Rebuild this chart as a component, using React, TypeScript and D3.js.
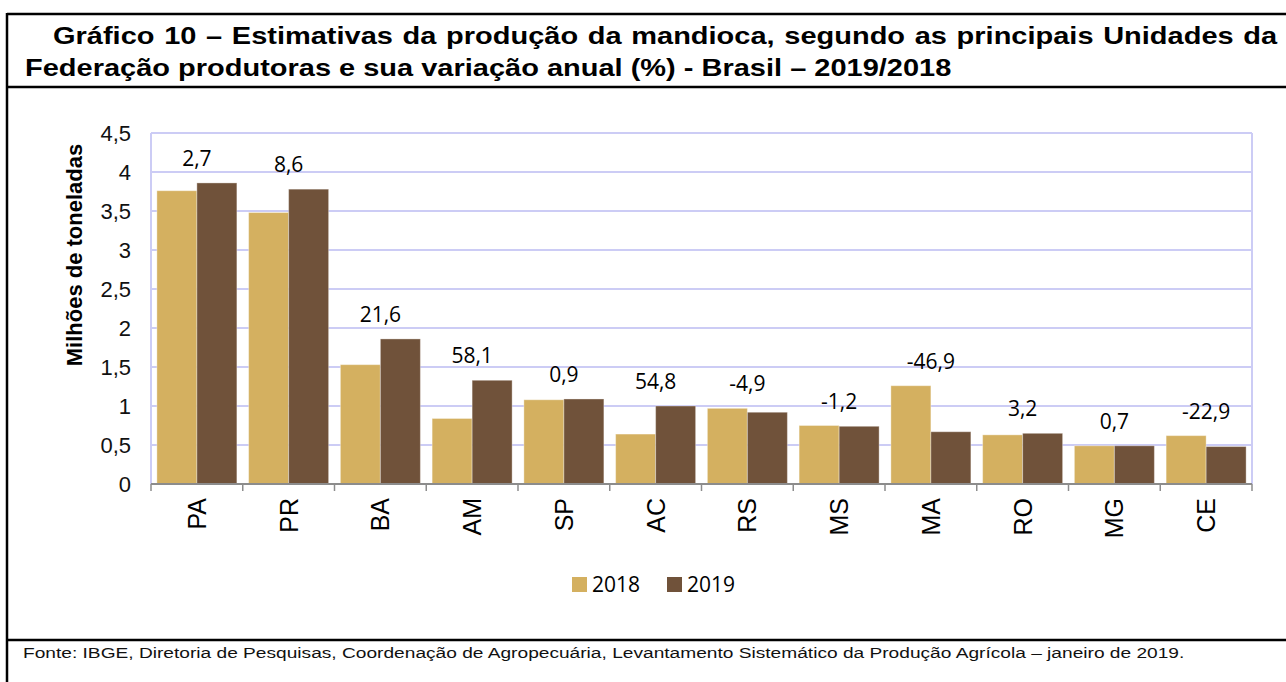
import { useEffect, useRef } from "react";
import * as d3 from "d3";

const estados = ["PA", "PR", "BA", "AM", "SP", "AC", "RS", "MS", "MA", "RO", "MG", "CE"];
const anos = ["2018", "2019"];
const producao2018 = [3.76, 3.48, 1.53, 0.84, 1.08, 0.64, 0.97, 0.75, 1.26, 0.63, 0.49, 0.62];
const producao2019 = [3.86, 3.78, 1.86, 1.33, 1.09, 1.0, 0.92, 0.74, 0.67, 0.65, 0.49, 0.48];
const variacao = ["2,7", "8,6", "21,6", "58,1", "0,9", "54,8", "-4,9", "-1,2", "-46,9", "3,2", "0,7", "-22,9"];
const yTicks = [0, 0.5, 1, 1.5, 2, 2.5, 3, 3.5, 4, 4.5];

const cores: Record<string, string> = { "2018": "#d4b060", "2019": "#70523a" };

const titulo1 = "Gráfico 10 – Estimativas da produção da mandioca, segundo as principais Unidades da";
const titulo2 = "Federação produtoras e sua variação anual (%) - Brasil – 2019/2018";
const fonte =
  "Fonte: IBGE, Diretoria de Pesquisas, Coordenação de Agropecuária, Levantamento Sistemático da Produção Agrícola – janeiro de 2019.";

function App() {
  const ref = useRef<SVGSVGElement>(null);

  const width = 1286;
  const height = 682;
  const margin = { top: 133, left: 151, right: 34, bottom: 198 };
  const innerW = width - margin.left - margin.right;
  const innerH = height - margin.top - margin.bottom;

  const x = d3.scaleBand().domain(estados).range([0, innerW]).padding(0);
  const xSub = d3
    .scaleBand()
    .domain(anos)
    .range([0, x.bandwidth()])
    .paddingInner(0)
    .paddingOuter(0.147);
  const y = d3.scaleLinear().domain([0, 4.5]).range([innerH, 0]);

  const dados = estados.map((uf, i) => ({
    uf,
    valores: [
      { ano: "2018", v: producao2018[i] },
      { ano: "2019", v: producao2019[i] },
    ],
    label: variacao[i],
  }));

  useEffect(() => {
    const svg = d3.select(ref.current);
    // the title font is a narrow one: squeeze using line 2 as reference
    const t2 = svg.select<SVGTextElement>("#titulo2");
    const nat2 = t2.node()!.getComputedTextLength();
    const r = 927 / nat2;
    t2.attr("transform", `translate(25,76) scale(${r},1)`);
    const t1 = svg.select<SVGTextElement>("#titulo1");
    const nat1 = t1.node()!.getComputedTextLength();
    const gaps = titulo1.split(" ").length - 1;
    const ws = (1225 / r - nat1) / gaps;
    t1.attr("word-spacing", ws).attr("transform", `translate(53,44) scale(${r},1)`);
    const f = svg.select<SVGTextElement>("#fonte");
    const natF = f.node()!.getComputedTextLength();
    f.attr("transform", `translate(23,658) scale(${1162 / natF},1)`);
  }, []);

  const grid = "#ccccf5";

  return (
    <svg
      ref={ref}
      width={width}
      height={height}
      style={{ position: "absolute", left: 0, top: 0, background: "#fff" }}
    >
      <rect width={width} height={height} fill="#fff" />
      {/* moldura */}
      <g stroke="#000" strokeWidth={2.5}>
        <line x1={7} x2={width} y1={14} y2={14} />
        <line x1={7} x2={width} y1={87} y2={87} />
        <line x1={7} x2={width} y1={640} y2={640} />
        <line x1={7} x2={7} y1={13} y2={height} />
      </g>

      <g fontFamily="'Liberation Sans Narrow', 'Liberation Sans', Arial, sans-serif" fontWeight="bold" fontSize={24.5}>
        <text id="titulo1" transform="translate(53,44)">{titulo1}</text>
        <text id="titulo2" transform="translate(25,76)">{titulo2}</text>
      </g>
      <text
        id="fonte"
        transform="translate(23,658)"
        fontFamily="'Liberation Sans Narrow', 'Liberation Sans', Arial, sans-serif"
        fontSize={15.5}
        fill="#111"
      >
        {fonte}
      </text>

      <g transform={`translate(${margin.left},${margin.top})`}>
        {yTicks.map((t) => (
          <g key={t}>
            {t > 0 && (
              <line x1={0} x2={innerW} y1={y(t)} y2={y(t)} stroke={grid} strokeWidth={2} />
            )}
            <text
              x={-20}
              y={y(t)}
              dy="0.36em"
              textAnchor="end"
              fontFamily="'Liberation Sans', Arial, sans-serif"
              fontSize={22}
              fill="#111"
            >
              {d3.format(".1~f")(t).replace(".", ",")}
            </text>
          </g>
        ))}
        <line x1={0} x2={0} y1={0} y2={innerH} stroke={grid} strokeWidth={2} />
        <line x1={innerW} x2={innerW} y1={0} y2={innerH} stroke={grid} strokeWidth={2} />

        {dados.map((d) => (
          <g key={d.uf} transform={`translate(${x(d.uf)},0)`}>
            {d.valores.map((s) => (
              <rect
                key={s.ano}
                x={xSub(s.ano)}
                y={y(s.v)}
                width={xSub.bandwidth()}
                height={innerH - y(s.v)}
                fill={cores[s.ano]}
                stroke="#ffffff"
                strokeOpacity={0.35}
                strokeWidth={1}
              />
            ))}
            <text
              x={x.bandwidth() / 2}
              y={y(d3.max(d.valores, (s) => s.v)!) - 17}
              textAnchor="middle"
              fontFamily="'Open Sans', 'Noto Sans', sans-serif"
              fontSize={21}
              fill="#000"
            >
              {d.label}
            </text>
            <text
              transform={`translate(${x.bandwidth() / 2 + 9},${innerH + 14}) rotate(-90)`}
              textAnchor="end"
              fontFamily="'Liberation Sans', Arial, sans-serif"
              fontSize={25}
              fill="#000"
            >
              {d.uf}
            </text>
          </g>
        ))}

        {/* eixo x */}
        <line x1={0} x2={innerW} y1={innerH} y2={innerH} stroke="#8c8c8c" strokeWidth={2} />
        {d3.range(estados.length + 1).map((i) => (
          <line
            key={i}
            x1={i * x.step()}
            x2={i * x.step()}
            y1={innerH}
            y2={innerH + 7}
            stroke="#8c8c8c"
            strokeWidth={1.5}
          />
        ))}
      </g>

      <text
        transform={`translate(82,255) rotate(-90)`}
        textAnchor="middle"
        fontFamily="'Liberation Sans', Arial, sans-serif"
        fontWeight="bold"
        fontSize={22}
      >
        Milhões de toneladas
      </text>

      {/* legenda */}
      <g fontFamily="'Open Sans', 'Noto Sans', sans-serif" fontSize={21}>
        {anos.map((a, i) => (
          <g key={a} transform={`translate(${572 + i * 95},577)`}>
            <rect width={15} height={15} fill={cores[a]} />
            <text x={20} y={15}>
              {a}
            </text>
          </g>
        ))}
      </g>
    </svg>
  );
}

export default App;
